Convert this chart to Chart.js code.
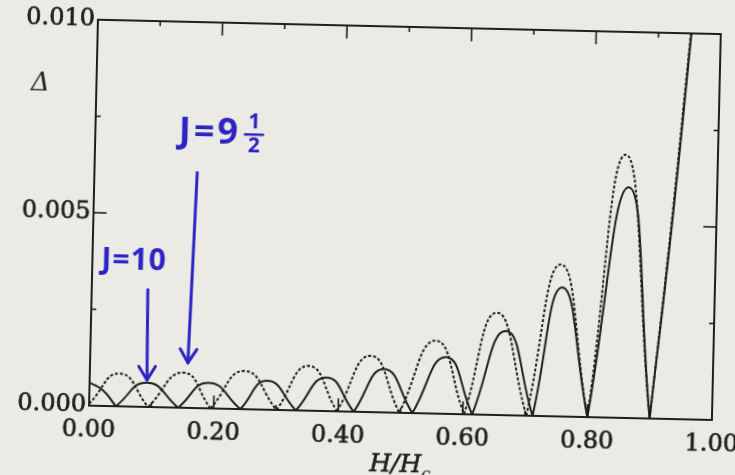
<!DOCTYPE html>
<html>
<head>
<meta charset="utf-8">
<script src="https://cdn.jsdelivr.net/npm/chart.js@4"></script>
<style>
  html, body { margin: 0; padding: 0; background: #ebeae5; overflow: hidden; width: 735px; height: 475px; }
  /* the scanned figure sits slightly skewed on the page */
  #wrap { width: 770px; height: 500px; transform: rotate(1.32deg); transform-origin: 367.5px 237.5px; }
</style>
</head>
<body>
<div id="wrap"><canvas id="gapChart" width="770" height="500"></canvas></div>
<script>
// H/Hc and gap values; null breaks the line between arches
const solidH = [0.000, 0.022, 0.043, null,
  0.043, 0.092, 0.143, null,
  0.143, 0.191, 0.243, null,
  0.243, 0.285, 0.332, null,
  0.332, 0.380, 0.425, null,
  0.425, 0.472, 0.519, null,
  0.519, 0.571, 0.615, null,
  0.615, 0.666, 0.712, null,
  0.712, 0.755, 0.800, null,
  0.800, 0.858, 0.900, null,
  0.900, 0.928, 0.953];
const solidD = [0.00060, 0.00040, 0, null,
  0, 0.00063, 0, null,
  0, 0.00066, 0, null,
  0, 0.00075, 0, null,
  0, 0.00087, 0, null,
  0, 0.00112, 0, null,
  0, 0.00147, 0, null,
  0, 0.00218, 0, null,
  0, 0.00334, 0, null,
  0, 0.00598, 0, null,
  0, 0.00490, 0.01000];

const dashedH = [0.000, 0.048, 0.095, null,
  0.095, 0.150, 0.195, null,
  0.195, 0.248, 0.301, null,
  0.301, 0.351, 0.398, null,
  0.398, 0.450, 0.498, null,
  0.498, 0.554, 0.602, null,
  0.602, 0.651, 0.702, null,
  0.702, 0.752, 0.800, null,
  0.800, 0.852, 0.900, null,
  0.900, 0.927, 0.952];
const dashedD = [0.00005, 0.00085, 0, null,
  0, 0.00091, 0, null,
  0, 0.00099, 0, null,
  0, 0.00116, 0, null,
  0, 0.00146, 0, null,
  0, 0.00189, 0, null,
  0, 0.00265, 0, null,
  0, 0.00394, 0, null,
  0, 0.00682, 0, null,
  0, 0.00488, 0.01000];

const xTicks = [0, 0.2, 0.4, 0.6, 0.8, 1.0];
const yTicks = [0, 0.005, 0.010];

const toPoints = (hs, ds) => hs.map((h, i) => ({ x: h, y: ds[i] }));

const INK = '#1f1f1f';
const BLUE = '#2c24c4';

function seg(ctx, x1, y1, x2, y2) {
  ctx.beginPath();
  ctx.moveTo(x1, y1);
  ctx.lineTo(x2, y2);
  ctx.stroke();
}

function arrow(ctx, x1, y1, x2, y2) {
  seg(ctx, x1, y1, x2, y2);
  const ang = Math.atan2(y2 - y1, x2 - x1);
  const back = 16, spread = 0.55;
  seg(ctx, x2, y2, x2 - back * Math.cos(ang - spread), y2 - back * Math.sin(ang - spread));
  seg(ctx, x2, y2, x2 - back * Math.cos(ang + spread), y2 - back * Math.sin(ang + spread));
}

const scanFrame = {
  id: 'scanFrame',
  beforeDraw(chart) {
    const ctx = chart.ctx;
    ctx.save();
    ctx.fillStyle = '#ebeae5';
    ctx.fillRect(0, 0, chart.width, chart.height);
    ctx.restore();
  },
  afterDatasetsDraw(chart) {
    const { ctx, chartArea: a, scales: { x, y } } = chart;
    ctx.save();
    ctx.strokeStyle = INK;
    ctx.lineWidth = 2;
    ctx.strokeRect(a.left, a.top, a.right - a.left, a.bottom - a.top);

    // inward ticks all round
    ctx.lineWidth = 1.6;
    for (let i = 0; i <= 10; i++) {
      const px = x.getPixelForValue(i / 10);
      const len = i % 2 === 0 ? 13 : 5;
      seg(ctx, px, a.bottom, px, a.bottom - len);
      seg(ctx, px, a.top, px, a.top + len);
    }
    for (let j = 0; j <= 4; j++) {
      const py = y.getPixelForValue(j * 0.0025);
      const len = j % 2 === 0 ? 13 : 5;
      seg(ctx, a.left, py, a.left + len, py);
      seg(ctx, a.right, py, a.right - len, py);
    }

    // axis titles
    ctx.fillStyle = INK;
    ctx.strokeStyle = INK;
    ctx.lineWidth = 0.6;
    ctx.textBaseline = 'middle';
    ctx.textAlign = 'center';
    ctx.font = 'italic 26px "DejaVu Serif"';
    ctx.fillText('Δ', a.left - 56, y.getPixelForValue(0.0083));

    const mid = (a.left + a.right) / 2;
    ctx.font = 'italic 25px "DejaVu Serif"';
    const w1 = ctx.measureText('H/H').width;
    ctx.textAlign = 'left';
    ctx.textBaseline = 'alphabetic';
    ctx.fillText('H/H', mid - w1 / 2 - 4, 471);
    ctx.strokeText('H/H', mid - w1 / 2 - 4, 471);
    ctx.font = 'italic 17px "DejaVu Serif"';
    ctx.fillText('c', mid + w1 / 2 - 4, 478);

    // handwritten notes
    ctx.strokeStyle = BLUE;
    ctx.fillStyle = BLUE;
    ctx.lineWidth = 3;
    ctx.lineCap = 'round';
    arrow(ctx, x.getPixelForValue(0.090), y.getPixelForValue(0.00304),
               x.getPixelForValue(0.092), y.getPixelForValue(0.00070));
    arrow(ctx, x.getPixelForValue(0.165), y.getPixelForValue(0.0061),
               x.getPixelForValue(0.157), y.getPixelForValue(0.00117));

    ctx.textAlign = 'center';
    ctx.textBaseline = 'middle';
    ctx.letterSpacing = '1px';
    ctx.font = 'bold 30px "Noto Sans"';
    ctx.fillText('J=10', x.getPixelForValue(0.067), y.getPixelForValue(0.00376));
    ctx.letterSpacing = '3px';
    ctx.font = 'bold 36px "Noto Sans"';
    ctx.fillText('J=9', x.getPixelForValue(0.184), y.getPixelForValue(0.00712));
    ctx.letterSpacing = '0px';
    const fx = x.getPixelForValue(0.2547), fy = y.getPixelForValue(0.00712);
    ctx.font = 'bold 21px "Noto Sans"';
    ctx.fillText('1', fx, fy - 12);
    ctx.fillText('2', fx, fy + 12);
    ctx.lineWidth = 2.5;
    seg(ctx, fx - 9, fy, fx + 9, fy);
    ctx.restore();
  }
};

new Chart(document.getElementById('gapChart'), {
  type: 'line',
  data: {
    datasets: [
      {
        label: 'solid',
        data: toPoints(solidH, solidD),
        borderColor: INK,
        borderWidth: 2,
        pointRadius: 0,
        tension: 0.5,
        spanGaps: false
      },
      {
        label: 'dashed',
        data: toPoints(dashedH, dashedD),
        borderColor: INK,
        borderWidth: 2,
        borderDash: [3, 2],
        pointRadius: 0,
        tension: 0.5,
        spanGaps: false
      }
    ]
  },
  options: {
    responsive: false,
    animation: false,
    devicePixelRatio: 1,
    layout: { padding: { top: 26, right: 54, left: 0, bottom: 25 } },
    plugins: {
      legend: { display: false },
      tooltip: { enabled: false }
    },
    scales: {
      x: {
        type: 'linear',
        min: 0,
        max: 1,
        border: { display: false },
        grid: { display: false, drawTicks: false },
        afterBuildTicks: s => { s.ticks = xTicks.map(v => ({ value: v })); },
        afterFit: s => { s.height = 63; s.paddingLeft = 0; s.paddingRight = 0; },
        ticks: {
          padding: 10,
          color: INK,
          textStrokeColor: INK,
          textStrokeWidth: 0.7,
          autoSkip: false,
          maxRotation: 0,
          font: { family: 'DejaVu Serif', size: 24 },
          callback: v => v.toFixed(2)
        }
      },
      y: {
        min: 0,
        max: 0.010,
        border: { display: false },
        grid: { display: false, drawTicks: false },
        afterBuildTicks: s => { s.ticks = yTicks.map(v => ({ value: v })); },
        afterFit: s => { s.width = 93; },
        ticks: {
          padding: 3,
          color: INK,
          textStrokeColor: INK,
          textStrokeWidth: 0.7,
          font: { family: 'DejaVu Serif', size: 24 },
          callback: v => v.toFixed(3)
        }
      }
    }
  },
  plugins: [scanFrame]
});
</script>
</body>
</html>
